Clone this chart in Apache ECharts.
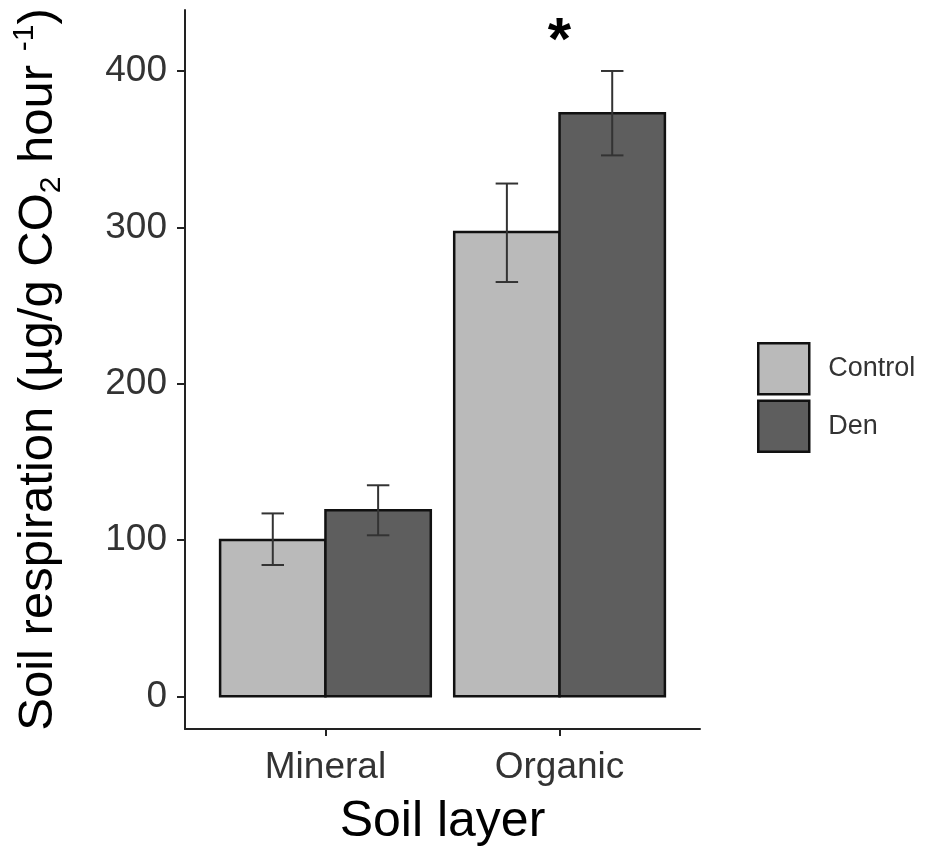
<!DOCTYPE html>
<html>
<head>
<meta charset="utf-8">
<script src="https://cdn.jsdelivr.net/npm/echarts@6/dist/echarts.min.js"></script>
<style>
html,body{margin:0;padding:0;background:#fff;}
#chart{width:925px;height:852px;}
</style>
</head>
<body>
<div id="chart"></div>
<script>
// ---- data ----
const categories = ['Mineral', 'Organic'];
const seriesNames = ['Control', 'Den'];
const controlMean = [100, 297];
const controlLow = [84, 265];
const controlHigh = [117, 328];
const denMean = [119, 373];
const denLow = [103, 346];
const denHigh = [135, 400];
const yTicks = [0, 100, 200, 300, 400];
const starCategory = 'Organic';
const starValue = 418;
const starText = '*';

const FONT = 'Liberation Sans, Arial, Helvetica, sans-serif';
const colors = {Control: '#bababa', Den: '#5e5e5e'};
const half = 0.45;   // half of dodge group width (category units)
const cap = 0.048;   // half error-bar cap width

function rows(mean, low, high) {
  return categories.map((c, i) => [i + 1, mean[i], low[i], high[i]]);
}

function makeRender(side) {
  return function (params, api) {
    const x = api.value(0), m = api.value(1), lo = api.value(2), hi = api.value(3);
    const x0 = side < 0 ? x - half : x;
    const x1 = side < 0 ? x : x + half;
    const cx = (x0 + x1) / 2;
    const pTop = api.coord([x0, m]);
    const pBot = api.coord([x1, 0]);
    const eHi = api.coord([cx, hi]);
    const eLo = api.coord([cx, lo]);
    const capL = api.coord([cx - cap, hi])[0];
    const capR = api.coord([cx + cap, hi])[0];
    const lineStyle = {stroke: '#333', lineWidth: 2};
    return {
      type: 'group',
      children: [
        {type: 'rect', shape: {x: pTop[0], y: pTop[1], width: pBot[0] - pTop[0], height: pBot[1] - pTop[1]},
         style: {fill: api.visual('color'), stroke: '#111', lineWidth: 2.5}},
        {type: 'line', shape: {x1: eHi[0], y1: eHi[1], x2: eLo[0], y2: eLo[1]}, style: lineStyle},
        {type: 'line', shape: {x1: capL, y1: eHi[1], x2: capR, y2: eHi[1]}, style: lineStyle},
        {type: 'line', shape: {x1: capL, y1: eLo[1], x2: capR, y2: eLo[1]}, style: lineStyle}
      ]
    };
  };
}

const chart = echarts.init(document.getElementById('chart'), null, {renderer: 'canvas'});
const option = {
  backgroundColor: '#fff',
  animation: false,
  grid: {left: 185, right: 225, top: 10, bottom: 122, containLabel: false},
  legend: {
    orient: 'vertical',
    left: 757, top: 342, padding: 0,
    itemWidth: 51, itemHeight: 51, itemGap: 4,
    icon: 'rect',
    selectedMode: false,
    textStyle: {fontFamily: FONT, fontSize: 27, color: '#333', padding: [0, 0, 0, 14]},
    data: seriesNames.map(n => ({name: n, itemStyle: {color: colors[n], borderColor: '#111', borderWidth: 2.5}}))
  },
  xAxis: {
    type: 'value', min: 0.4, max: 2.6,
    splitLine: {show: false},
    axisLine: {onZero: false, lineStyle: {color: '#222', width: 2}},
    axisTick: {customValues: [1, 2], length: 7, lineStyle: {color: '#222', width: 2}},
    axisLabel: {customValues: [1, 2], formatter: v => categories[Math.round(v) - 1] || '',
      fontFamily: FONT, fontSize: 37, color: '#333', margin: 20},
    name: 'Soil layer', nameLocation: 'middle', nameGap: 68,
    nameTextStyle: {fontFamily: FONT, fontSize: 50, color: '#000'}
  },
  yAxis: {
    type: 'value', min: -20.9, max: 439,
    splitLine: {show: false},
    axisLine: {onZero: false, lineStyle: {color: '#222', width: 2}},
    axisTick: {customValues: yTicks, length: 8, lineStyle: {color: '#222', width: 2}},
    axisLabel: {customValues: yTicks, fontFamily: FONT, fontSize: 37, color: '#333', margin: 18},
    name: '{a|Soil respiration (µg/g CO}{b|2}{a| hour }{c|-1}{a|)}',
    nameLocation: 'middle', nameRotate: 90, nameGap: 118,
    nameTextStyle: {
      fontFamily: FONT, fontSize: 49, color: '#000',
      rich: {
        a: {fontFamily: FONT, fontSize: 49, color: '#000', lineHeight: 57, verticalAlign: 'middle'},
        b: {fontFamily: FONT, fontSize: 30, color: '#000', lineHeight: 57, verticalAlign: 'bottom'},
        c: {fontFamily: FONT, fontSize: 30, color: '#000', lineHeight: 57, verticalAlign: 'top'}
      }
    }
  },
  series: [
    {name: 'Control', type: 'custom', itemStyle: {color: colors.Control}, renderItem: makeRender(-1),
     encode: {x: 0, y: [1, 2, 3]}, data: rows(controlMean, controlLow, controlHigh), z: 2},
    {name: 'Den', type: 'custom', itemStyle: {color: colors.Den}, renderItem: makeRender(1),
     encode: {x: 0, y: [1, 2, 3]}, data: rows(denMean, denLow, denHigh), z: 2},
    {name: 'star', type: 'custom', silent: true,
     renderItem: function (params, api) {
       const p = api.coord([api.value(0), api.value(1)]);
       return {type: 'text', x: p[0], y: p[1],
         style: {text: starText, fontFamily: FONT, fontSize: 60, fontWeight: 'bold', fill: '#000',
                 align: 'center', verticalAlign: 'middle'}};
     },
     data: [[categories.indexOf(starCategory) + 1, starValue]], z: 3}
  ]
};
chart.setOption(option);
</script>
</body>
</html>
